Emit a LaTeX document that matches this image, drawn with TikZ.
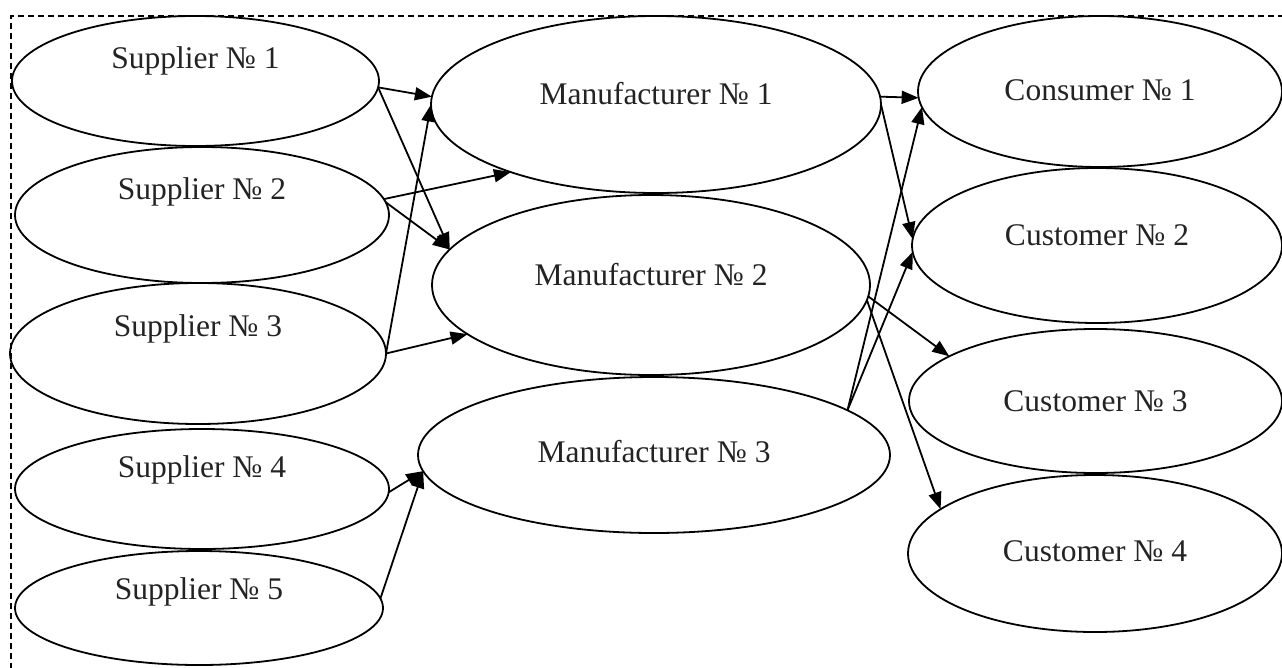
\documentclass[tikz,border=0pt]{standalone}
\usepackage{fontspec}
\setmainfont{Liberation Serif}
\usetikzlibrary{shapes.geometric,arrows.meta}
\definecolor{ink}{RGB}{35,35,35}
\begin{document}
\begin{tikzpicture}[x=1pt,y=-1pt,
  oval/.style={draw, ellipse, line width=1.8pt, inner sep=0pt, outer sep=0pt},
  caption/.style={font=\fontsize{31.5}{36}\selectfont, text=ink, inner sep=0pt,
    text height=0pt, text depth=0pt},
  link/.style={line width=1.8pt, -{Triangle[length=17pt,width=13pt]}},
  frame/.style={dash pattern=on 6pt off 4pt, line width=1.5pt}]
\useasboundingbox (0,0) rectangle (1282,667);

% dashed frame (top and left sides)
\draw[frame] (1284,16) -- (11,16) -- (11,669);

% suppliers
\node[oval, minimum width=367pt, minimum height=130pt,
  label={[caption, yshift=13pt]center:Supplier № 1}] (s1) at (195.5,81) {};
\node[oval, minimum width=374pt, minimum height=136pt,
  label={[caption, yshift=16pt]center:Supplier № 2}] (s2) at (202,215) {};
\node[oval, minimum width=376pt, minimum height=141pt,
  label={[caption, yshift=17.5pt]center:Supplier № 3}] (s3) at (198,353.5) {};
\node[oval, minimum width=374pt, minimum height=120pt,
  label={[caption, yshift=12pt]center:Supplier № 4}] (s4) at (202,489) {};
\node[oval, minimum width=368pt, minimum height=114pt,
  label={[caption, yshift=9pt]center:Supplier № 5}] (s5) at (199,608) {};

% manufacturers
\node[oval, minimum width=450pt, minimum height=177pt,
  label={[caption]center:Manufacturer № 1}] (m1) at (656,104.5) {};
\node[oval, minimum width=438pt, minimum height=180pt,
  label={[caption]center:Manufacturer № 2}] (m2) at (651,285) {};
\node[oval, minimum width=472pt, minimum height=156pt,
  label={[caption, yshift=-7pt]center:Manufacturer № 3}] (m3) at (654,455) {};

% consumers / customers
\node[oval, minimum width=364pt, minimum height=151pt,
  label={[caption, yshift=-9pt]center:Consumer № 1}] (c1) at (1100,91.5) {};
\node[oval, minimum width=370pt, minimum height=155pt,
  label={[caption]center:Customer № 2}] (c2) at (1097,245.5) {};
\node[oval, minimum width=373pt, minimum height=144pt,
  label={[caption, yshift=-10pt]center:Customer № 3}] (c3) at (1095.5,401) {};
\node[oval, minimum width=374pt, minimum height=157pt,
  label={[caption, yshift=-8pt]center:Customer № 4}] (c4) at (1095,553.5) {};

% supplier -> manufacturer links
\draw[link] (s1.358) -- (m1.178);
\draw[link] (s1.358) -- (m2.170);
\draw[link] (s2.5) -- (m1.205);
\draw[link] (s2.4) -- (m2.170);
\draw[link] (s3.0) -- (m1.180);
\draw[link] (s3.0) -- (m2.195);
\draw[link] (s4.359) -- (m3.184);
\draw[link] (s5.3) -- (m3.184);

% manufacturer -> customer links
\draw[link] (m1.2) -- (c1.182);
\draw[link] (m1.0) -- (c2.178);
\draw[link] (m2.357) -- (c3.163);
\draw[link] (m2.356) -- (c4.164);
\draw[link] (m3.13) -- (c1.185);
\draw[link] (m3.13) -- (c2.182);
\end{tikzpicture}
\end{document}
